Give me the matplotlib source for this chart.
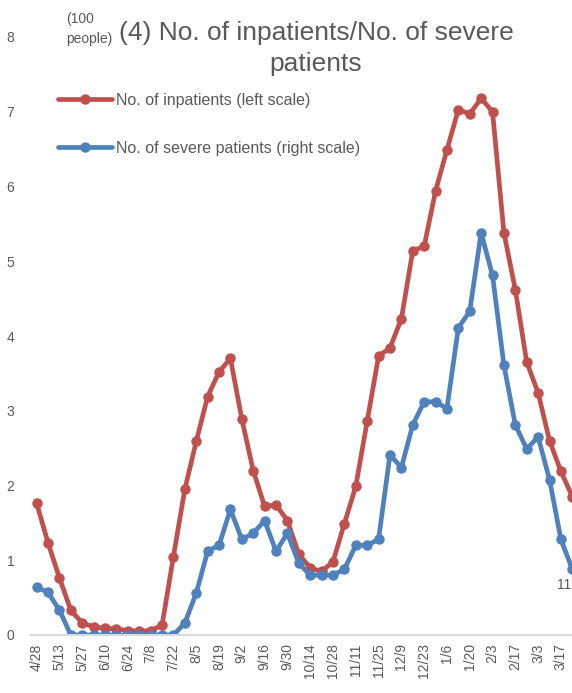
import matplotlib
matplotlib.use('Agg')
import matplotlib.pyplot as plt
import numpy as np

plt.rcParams['font.family'] = ['Liberation Sans', 'DejaVu Sans']

# weekly points from 4/28, every other one is labelled
tick_labels = ['4/28', '5/13', '5/27', '6/10', '6/24', '7/8', '7/22', '8/5',
               '8/19', '9/2', '9/16', '9/30', '10/14', '10/28', '11/11', '11/25',
               '12/9', '12/23', '1/6', '1/20', '2/3', '2/17', '3/3', '3/17']

inpatients = [1.76, 1.23, 0.76, 0.33, 0.16, 0.11, 0.09, 0.08, 0.06, 0.05,
              0.06, 0.13, 1.05, 1.95, 2.59, 3.19, 3.52, 3.70, 2.89, 2.20,
              1.72, 1.74, 1.53, 1.08, 0.90, 0.85, 0.98, 1.49, 1.99, 2.86,
              3.73, 3.84, 4.23, 5.14, 5.20, 5.94, 6.49, 7.03, 6.97, 7.18,
              7.00, 5.38, 4.62, 3.65, 3.24, 2.60, 2.19, 1.85]

severe = [0.64, 0.57, 0.33, 0.0, 0.0, 0.0, 0.0, 0.0, 0.0, 0.0,
          0.0, 0.0, 0.0, 0.16, 0.56, 1.12, 1.20, 1.68, 1.28, 1.36,
          1.53, 1.12, 1.36, 0.96, 0.80, 0.80, 0.80, 0.88, 1.20, 1.20,
          1.28, 2.41, 2.24, 2.81, 3.12, 3.12, 3.03, 4.11, 4.33, 5.38,
          4.81, 3.61, 2.81, 2.49, 2.65, 2.08, 1.28, 0.88]

grey = '#595959'
red = '#C0504D'
blue = '#4F81BD'

W, H = 572, 693
fig = plt.figure(figsize=(W / 100, H / 100), dpi=100)
ax = fig.add_axes([31 / W, 58 / H, 547 / W, 598 / H])

x = np.arange(len(inpatients))
ax.plot(x, inpatients, color=red, lw=3.4, marker='o', ms=6.5,
        solid_capstyle='round', label='No. of inpatients (left scale)')
ax.plot(x, severe, color=blue, lw=3.4, marker='o', ms=6.5,
        solid_capstyle='round', label='No. of severe patients (right scale)')

# data label of the last point, cut by the chart edge in the original
fig.text(571 / W, 1 - 585 / H, '11', color=grey, fontsize=10,
         ha='right', va='center')

ax.set_xlim(-0.5, 47.5)
ax.set_ylim(0, 8)
ax.set_xticks(x[::2])
ax.set_xticklabels(tick_labels, rotation=90)
ax.set_yticks(range(9))
ax.tick_params(axis='x', length=0, pad=6, labelsize=10, colors=grey)
ax.tick_params(axis='y', length=0, pad=12, labelsize=10, colors=grey)
for s in ['top', 'right', 'left']:
    ax.spines[s].set_visible(False)
ax.spines['bottom'].set_color('#D9D9D9')
ax.spines['bottom'].set_linewidth(1.5)

fig.text(66 / W, 1 - 29 / H, '(100\npeople)', color=grey, fontsize=10,
         ha='left', va='center', linespacing=1.5)
fig.text(316 / W, 1 - 48.5 / H, '(4) No. of inpatients/No. of severe\npatients',
         color=grey, fontsize=19, ha='center', va='center', linespacing=1.4)

leg = ax.legend(loc='upper left', bbox_to_anchor=(58 / W, 1 - 93 / H),
                bbox_transform=fig.transFigure, frameon=False, fontsize=11.5,
                handlelength=3.4, handletextpad=0.2, labelspacing=2.05,
                borderaxespad=0, borderpad=0)
for t in leg.get_texts():
    t.set_color(grey)

fig.savefig('out.png', dpi=100)
